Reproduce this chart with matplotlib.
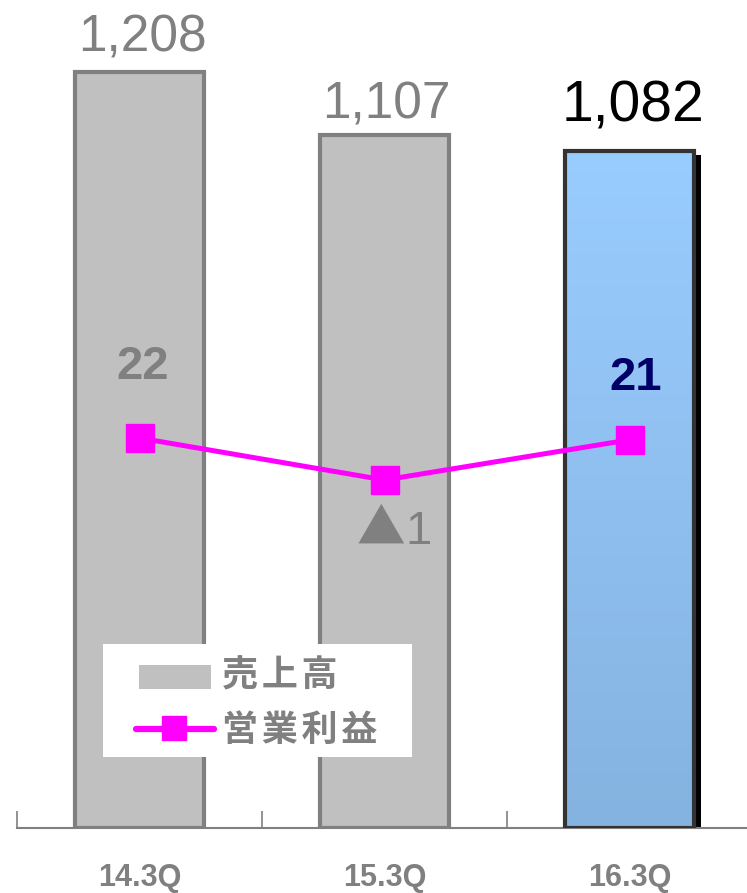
import matplotlib
matplotlib.use("Agg")
import matplotlib.pyplot as plt
import numpy as np
from matplotlib.patches import Rectangle
from matplotlib.lines import Line2D

plt.rcParams['font.family'] = ['Noto Sans CJK JP', 'DejaVu Sans']

# data
quarters = ['14.3Q', '15.3Q', '16.3Q']
sales = [1208, 1107, 1082]
profit = [22, -1, 21]
sales_labels = ['1,208', '1,107', '1,082']
profit_labels = ['22', '1', '21']
legend_labels = ['売\u200a上\u200a高', '営\u200a業\u200a利\u200a益']

GRAY_TXT = '#808080'
MAGENTA = '#FF00FF'
NUM_FONT = ['Liberation Sans', 'DejaVu Sans']

fig = plt.figure(figsize=(7.47, 8.93), dpi=100)
ax = fig.add_axes([17 / 747, 65 / 893, 735 / 747, 828 / 893])

x = np.arange(len(quarters))
w = 0.53

# gray bars
for i in range(2):
    ax.bar(x[i], sales[i], w, color='#C0C0C0', edgecolor='#808080', linewidth=3, zorder=2)

# shadow + gradient bar for latest
ax.bar(x[2] + 0.025, sales[2] - 6, w, color='black', edgecolor='none', zorder=1.5)
b = ax.bar(x[2], sales[2], w, color='none', edgecolor='#333333', linewidth=3, zorder=3)[0]
grad = np.linspace(0, 1, 256).reshape(-1, 1)
cmap = matplotlib.colors.LinearSegmentedColormap.from_list('g', ['#85B3E0', '#99CCFF'])
im = ax.imshow(grad, cmap=cmap, origin='lower', aspect='auto',
               extent=[x[2] - w / 2, x[2] + w / 2, 0, sales[2]], zorder=2)
im.set_clip_path(b)
ax.set_xlim(-0.5, 2.5)
ax.set_ylim(0, 1323)

# bar labels (offsets in pixels)
lab_off = [(3, 20), (2, 17), (3, 29)]
for i in range(3):
    big = i == 2
    ax.annotate(sales_labels[i], (x[i], sales[i]), xytext=lab_off[i], textcoords='offset pixels',
                ha='center', va='baseline', fontsize=41 if big else 37,
                color='black' if big else GRAY_TXT, family=NUM_FONT)

# axes styling
for s in ['top', 'right', 'left']:
    ax.spines[s].set_visible(False)
ax.spines['bottom'].set_color(GRAY_TXT)
ax.spines['bottom'].set_linewidth(1.5)
ax.set_yticks([])
ax.set_xticks([])
ax.set_xticks([-0.5, 0.5, 1.5, 2.5], minor=True)
ax.tick_params(axis='x', which='minor', direction='in', length=12, width=1.2, color=GRAY_TXT)
ax.tick_params(axis='x', which='minor', labelbottom=False)
for i, q in enumerate(quarters):
    ax.text(x[i], -50 / 828, q, transform=ax.get_xaxis_transform(), ha='center', va='center',
            fontsize=22, fontweight='bold', color=GRAY_TXT, family=NUM_FONT)

# profit line
ax2 = ax.twinx()
ax2.set_ylim(-191.6, 261.9)
ax2.axis('off')
ax2.plot(x, profit, color=MAGENTA, linewidth=3.6, marker='s', markersize=20,
         markerfacecolor=MAGENTA, markeredgecolor=MAGENTA, zorder=4)
ax2.annotate(profit_labels[0], (x[0], profit[0]), xytext=(3, 71), textcoords='offset pixels',
             ha='center', va='center', fontsize=34, fontweight='bold', color=GRAY_TXT, family=NUM_FONT)
ax2.annotate('▲', (x[1], profit[1]), xytext=(-4, -50), textcoords='offset pixels',
             ha='center', va='center', fontsize=35, color=GRAY_TXT)
ax2.annotate(profit_labels[1], (x[1], profit[1]), xytext=(34, -52), textcoords='offset pixels',
             ha='center', va='center', fontsize=34, color=GRAY_TXT, family=NUM_FONT)
ax2.annotate(profit_labels[2], (x[2], profit[2]), xytext=(6, 62), textcoords='offset pixels',
             ha='center', va='center', fontsize=34, fontweight='bold', color='#000066', family=NUM_FONT)

# legend box drawn in figure pixels
def fx(px):
    return px / 747

def fy(py):
    return 1 - py / 893

fig.patches.append(Rectangle((fx(103), fy(757)), fx(412) - fx(103), fy(644) - fy(757),
                             transform=fig.transFigure, facecolor='white', edgecolor='none', zorder=5))
fig.patches.append(Rectangle((fx(139), fy(689)), fx(211) - fx(139), fy(665) - fy(689),
                             transform=fig.transFigure, facecolor='#C0C0C0', edgecolor='none', zorder=6))
fig.lines.append(Line2D([fx(136), fx(214)], [fy(729), fy(729)], transform=fig.transFigure,
                        color=MAGENTA, linewidth=4.5, solid_capstyle='round', zorder=6))
fig.lines.append(Line2D([fx(174)], [fy(728)], transform=fig.transFigure, marker='s', markersize=17,
                        color=MAGENTA, zorder=7))
for lbl, yc in zip(legend_labels, [676, 730]):
    fig.text(fx(222), fy(yc), lbl, ha='left', va='center', fontsize=26, fontweight='bold',
             color=GRAY_TXT, zorder=8)

fig.savefig('out.png', dpi=100)
